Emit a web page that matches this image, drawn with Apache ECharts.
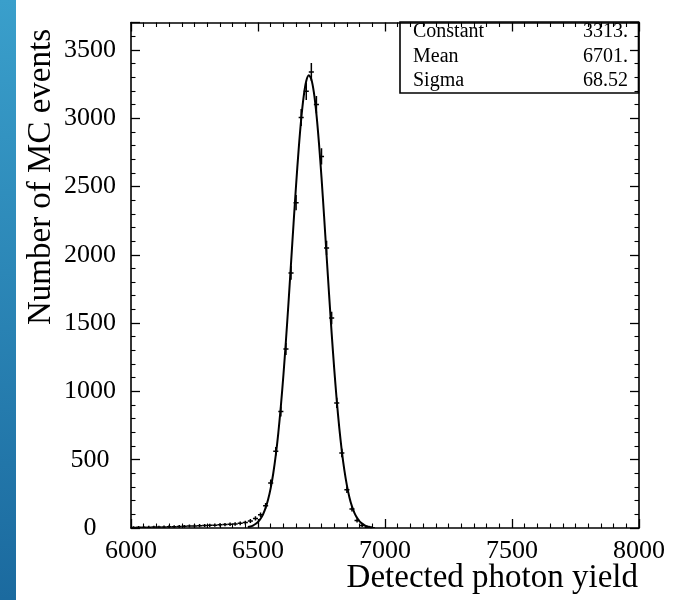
<!DOCTYPE html>
<html><head><meta charset="utf-8">
<script src="https://cdn.jsdelivr.net/npm/echarts@6/dist/echarts.min.js"></script>
<style>html,body{margin:0;padding:0;background:#fff}#c{width:677px;height:600px}</style>
</head><body><div id="c"></div>
<script>
// Histogram bins (centers, 20 units wide)
const binCenters = [6010,6030,6050,6070,6090,6110,6130,6150,6170,6190,6210,6230,6250,6270,6290,6310,6330,6350,6370,6390,6410,6430,6450,6470,6490,6510,6530,6550,6570,6590,6610,6630,6650,6670,6690,6710,6730,6750,6770,6790,6810,6830,6850,6870,6890,6910,6930,6950];
const counts = [4,5,5,6,7,7,8,9,10,11,12,14,15,17,18,20,21,23,25,27,30,34,40,52,70,97,163,329,561,853,1310,1867,2381,3004,3196,3338,3099,2720,2050,1537,915,549,280,139,55,18,6,2];
const errors = [2,2.2,2.2,2.4,2.6,2.6,2.8,3,3.2,3.3,3.5,3.7,3.9,4.1,4.2,4.5,4.6,4.8,5,5.2,5.5,5.8,6.3,7.2,8.4,9.8,12.8,18.1,23.7,29.2,36.2,43.2,48.8,54.8,56.5,57.8,55.7,52.2,45.3,39.2,30.2,23.4,16.7,11.8,7.4,4.2,2.4,1.4];
// Gaussian fit curve values
const fitX = [6460,6470,6480,6490,6500,6510,6520,6530,6540,6550,6560,6570,6580,6590,6600,6610,6620,6630,6640,6650,6660,6670,6680,6690,6700,6710,6720,6730,6740,6750,6760,6770,6780,6790,6800,6810,6820,6830,6840,6850,6860,6870,6880,6890,6900,6910,6920,6930,6940,6950];
const fitY = [7,11,18,29,45,68,101,147,210,292,399,533,697,892,1118,1372,1647,1937,2229,2512,2770,2991,3161,3271,3313,3285,3188,3029,2817,2566,2287,1995,1705,1425,1167,935,733,563,423,312,224,158,109,74,49,32,20,12,8,4.5];
const xTickValues = [6000,6500,7000,7500,8000];
const yTickValues = [0,500,1000,1500,2000,2500,3000,3500];
const statNames = ['Constant','Mean','Sigma'];
const statValues = ['3313.','6701.','68.52'];
const xTitle = 'Detected photon yield';
const yTitle = 'Number of MC events';

const SERIF = '"Liberation Serif", "DejaVu Serif", serif';
const chart = echarts.init(document.getElementById('c'), null, {renderer:'canvas'});
const BIN_W = 20;
const histData = binCenters.map((x,i)=>[x, counts[i], errors[i]]);
const fitData = fitX.map((x,i)=>[x, fitY[i]]);

function axisCommon(isX, pos, showLabel){
  return {
    type:'value', position:pos,
    min: isX ? xTickValues[0] : 0,
    max: isX ? xTickValues[xTickValues.length-1] : 3700,
    interval: 500,
    axisLine:{show:true, onZero:false, lineStyle:{color:'#000', width:1.6}},
    axisTick:{show:true, inside:true, length:9, lineStyle:{color:'#000', width:1.3}},
    minorTick:{show:true, splitNumber: isX ? 10 : 5, length:4.5, lineStyle:{color:'#000', width:1.1}},
    splitLine:{show:false},
    axisLabel:{show:showLabel, fontFamily:SERIF, fontSize:26, color:'#000',
      margin: isX ? 10 : 41, align: 'center',
      formatter: v => ((isX ? xTickValues : yTickValues).indexOf(v) >= 0 ? String(v) : '')}
  };
}

const graphics = [
  {type:'rect', left:0, top:0, shape:{width:16, height:600}, z:0,
   style:{fill:new echarts.graphic.LinearGradient(0,0,0,1,[{offset:0,color:'#3a9fcb'},{offset:1,color:'#1b6a9f'}])}},
  {type:'rect', shape:{x:400, y:22, width:238.5, height:71}, z:100,
   style:{fill:'rgba(0,0,0,0)', stroke:'#000', lineWidth:1.6}},
  {type:'text', x:638, y:595, z:100, style:{text:xTitle, font:'33px '+SERIF, fill:'#000', textAlign:'right', textVerticalAlign:'bottom'}},
  {type:'text', x:41, y:177, rotation:Math.PI/2, z:100, style:{text:yTitle, font:'33px '+SERIF, fill:'#000', textAlign:'center', textVerticalAlign:'middle'}}
];
const rowsY = [32, 57, 81];
statNames.forEach((n,i)=>{
  graphics.push({type:'text', x:413, y:rowsY[i], z:100, style:{text:n, font:'20px '+SERIF, fill:'#000', textAlign:'left', textVerticalAlign:'middle'}});
  graphics.push({type:'text', x:628, y:rowsY[i], z:100, style:{text:statValues[i], font:'20px '+SERIF, fill:'#000', textAlign:'right', textVerticalAlign:'middle'}});
});

chart.setOption({
  animation:false,
  backgroundColor:'#fff',
  grid:{left:131, right:38, top:22.5, bottom:72, containLabel:false},
  xAxis:[axisCommon(true,'bottom',true), axisCommon(true,'top',false)],
  yAxis:[axisCommon(false,'left',true), axisCommon(false,'right',false)],
  graphic: graphics,
  series:[
    {type:'custom', xAxisIndex:0, yAxisIndex:0, data:histData, clip:true, z:3,
     renderItem:(params, api)=>{
       const x=api.value(0), y=api.value(1), e=api.value(2);
       const pL=api.coord([x-BIN_W/2,y]), pR=api.coord([x+BIN_W/2,y]);
       const pT=api.coord([x,y+e]), pB=api.coord([x,Math.max(0,y-e)]);
       return {type:'group', children:[
         {type:'line', shape:{x1:pL[0],y1:pL[1],x2:pR[0],y2:pR[1]}, style:{stroke:'#000', lineWidth:1.5}},
         {type:'line', shape:{x1:pT[0],y1:pT[1]-1,x2:pB[0],y2:pB[1]+1}, style:{stroke:'#000', lineWidth:1.5}}
       ]};
     }},
    {type:'line', xAxisIndex:0, yAxisIndex:0, data:fitData, smooth:0.3, showSymbol:false, symbol:'none',
     lineStyle:{color:'#000', width:2}, z:4}
  ]
});
</script></body></html>
